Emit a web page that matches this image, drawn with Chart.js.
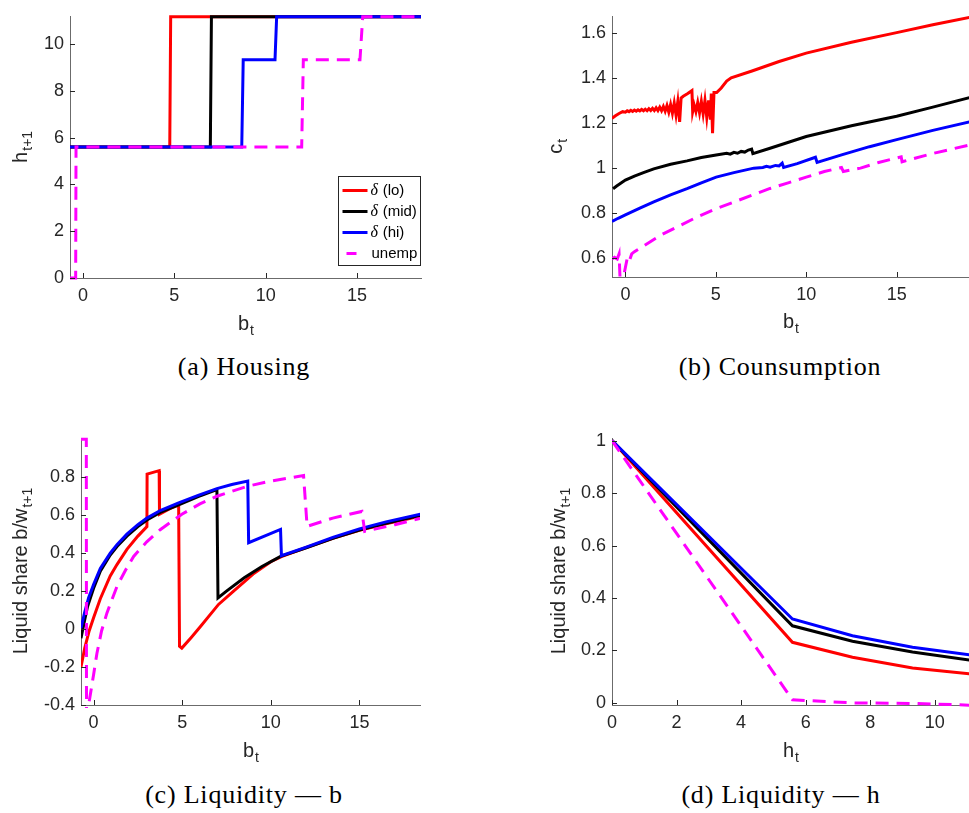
<!DOCTYPE html>
<html>
<head>
<meta charset="utf-8">
<script src="https://cdn.jsdelivr.net/npm/chart.js@4.4.1/dist/chart.umd.min.js"></script>
<style>
  body { margin: 0; background: #fff; width: 969px; height: 813px; position: relative; overflow: hidden; }
  canvas { position: absolute; }
  .caption { position: absolute; width: 400px; text-align: center; font-family: 'Liberation Serif', serif; font-size: 26px; letter-spacing: 0.8px; line-height: 28px; color: #000; }
</style>
</head>
<body>
<canvas id="housing" width="430" height="345" style="left:0;top:0"></canvas>
<canvas id="consumption" width="449" height="345" style="left:520px;top:0"></canvas>
<canvas id="liqB" width="430" height="345" style="left:0;top:420px"></canvas>
<canvas id="liqH" width="449" height="345" style="left:520px;top:420px"></canvas>
<div class="caption" style="left:44px;top:353px">(a) Housing</div>
<div class="caption" style="left:580px;top:353px">(b) Counsumption</div>
<div class="caption" style="left:44px;top:781px">(c) Liquidity — b</div>
<div class="caption" style="left:581px;top:781px">(d) Liquidity — h</div>
<script>
// legend labels, same order in every panel
const seriesNames = ['δ (lo)', 'δ (mid)', 'δ (hi)', 'unemp']

// (a) housing choice h_{t+1} against b_t
const housingLo = [[-0.71, 5.6], [4.75, 5.6], [4.8, 11.17], [19.5, 11.17]]
const housingMid = [[-0.71, 5.6], [6.97, 5.6], [7.03, 11.17], [19.5, 11.17]]
const housingHi = [[-0.71, 5.6], [8.69, 5.6], [8.77, 9.33], [10.51, 9.33], [10.6, 11.17], [19.5, 11.17]]
const housingUnemp = [[-0.71, 0], [-0.4, 0], [-0.38, 5.6], [11.97, 5.6], [12.06, 9.33], [15.16, 9.33], [15.31, 11.17], [19.5, 11.17]]

// (b) consumption c_t against b_t
const consLo = [[-0.74, 1.22], [-0.55, 1.232], [-0.35, 1.242], [-0.15, 1.25], [0, 1.248], [0.1, 1.254], [0.2, 1.25],
  [0.3, 1.256], [0.4, 1.251], [0.5, 1.257], [0.6, 1.252], [0.7, 1.258], [0.8, 1.253], [0.9, 1.26], [1.0, 1.254],
  [1.1, 1.261], [1.2, 1.254], [1.3, 1.263], [1.4, 1.255], [1.5, 1.265], [1.6, 1.255], [1.7, 1.267], [1.8, 1.255],
  [1.9, 1.27], [2.0, 1.254], [2.1, 1.273], [2.2, 1.252], [2.3, 1.277], [2.4, 1.248], [2.5, 1.282], [2.6, 1.243],
  [2.7, 1.288], [2.8, 1.235], [2.9, 1.295], [3.0, 1.205], [3.08, 1.31], [3.2, 1.318], [3.45, 1.33], [3.68, 1.343],
  [3.72, 1.25], [3.8, 1.28], [3.9, 1.25], [4.0, 1.29], [4.1, 1.245], [4.2, 1.295], [4.3, 1.24], [4.4, 1.3], [4.5, 1.225],
  [4.6, 1.3], [4.7, 1.215], [4.75, 1.33], [4.82, 1.155], [4.9, 1.335], [5.05, 1.335], [5.3, 1.355], [5.6, 1.385],
  [5.85, 1.4], [7, 1.43], [8.5, 1.472], [10, 1.509], [12.5, 1.557], [15, 1.6], [17, 1.635], [19.2, 1.67]]
const consMid = [[-0.68, 0.909], [-0.5, 0.92], [0, 0.947], [0.5, 0.965], [1, 0.98], [1.57, 0.997], [2.5, 1.017], [3.41, 1.032],
  [4.2, 1.047], [5.02, 1.058], [5.6, 1.066], [5.8, 1.062], [6.0, 1.07], [6.2, 1.066], [6.4, 1.074], [6.6, 1.071], [6.8, 1.08],
  [6.98, 1.084], [7.05, 1.064], [8, 1.088], [10, 1.14], [12.5, 1.188], [15, 1.23], [17, 1.27], [19.1, 1.314]]
const consHi = [[-0.74, 0.764], [-0.4, 0.778], [0, 0.793], [0.8, 0.823], [1.57, 0.851], [2.5, 0.882], [3.41, 0.909], [4.2, 0.935],
  [5.02, 0.96], [6, 0.98], [7.1, 1.0], [7.6, 1.003], [7.8, 1.008], [8.0, 1.004], [8.3, 1.012], [8.5, 1.01], [8.67, 1.022],
  [8.75, 1.003], [9.5, 1.02], [10.51, 1.048], [10.6, 1.025], [12, 1.06], [13.5, 1.095], [15, 1.126], [17, 1.167], [19.1, 1.206]]
const consUnemp = [[-0.74, 0.598], [-0.6, 0.605], [-0.45, 0.598], [-0.35, 0.62], [-0.3, 0.52], [-0.1, 0.52], [0, 0.56],
  [0.1, 0.6], [0.2, 0.585], [0.35, 0.62], [0.5, 0.63], [1, 0.655], [2, 0.705], [3, 0.745], [4, 0.785], [5, 0.82], [6, 0.85],
  [7, 0.88], [8, 0.91], [9, 0.935], [10, 0.96], [11, 0.985], [11.95, 1.003], [12.05, 0.985], [13, 1.0], [14, 1.025],
  [15.25, 1.05], [15.3, 1.028], [17, 1.065], [19.1, 1.104]]

// (c) liquid share b/w_{t+1} against b_t
const liqBLo = [[-0.71, -0.2], [-0.5, -0.1], [-0.25, -0.01], [0, 0.06], [0.38, 0.16], [0.94, 0.28], [1.32, 0.34], [1.88, 0.42],
  [2.5, 0.49], [3.01, 0.54], [3.02, 0.817], [3.7, 0.835], [3.72, 0.605], [4.3, 0.635], [4.8, 0.655], [4.85, -0.09],
  [4.98, -0.1], [5.5, -0.045], [6.02, 0.012], [7.05, 0.13], [7.9, 0.2], [9, 0.29], [10, 0.355], [10.6, 0.382], [12, 0.43],
  [13.5, 0.478], [15, 0.52], [16.5, 0.555], [18.5, 0.597]]
const liqBMid = [[-0.71, -0.048], [-0.5, 0.05], [-0.34, 0.119], [0, 0.215], [0.38, 0.305], [0.94, 0.39], [1.32, 0.435],
  [1.88, 0.49], [2.5, 0.54], [3.01, 0.575], [3.76, 0.615], [4.8, 0.655], [5.9, 0.698], [6.96, 0.735], [7.02, 0.164],
  [7.5, 0.2], [8.5, 0.27], [9.5, 0.33], [10.55, 0.383], [12, 0.428], [13.5, 0.478], [15, 0.522], [16.5, 0.558], [18.5, 0.6]]
const liqBHi = [[-0.71, 0.005], [-0.5, 0.09], [-0.28, 0.165], [0, 0.235], [0.38, 0.32], [0.94, 0.4], [1.32, 0.445],
  [1.88, 0.5], [2.5, 0.55], [3.01, 0.585], [3.76, 0.625], [4.8, 0.665], [5.9, 0.705], [6.96, 0.74], [7.8, 0.762],
  [8.7, 0.78], [8.75, 0.455], [10.55, 0.525], [10.6, 0.387], [12, 0.432], [13.5, 0.483], [15, 0.528], [16.5, 0.565], [18.5, 0.607]]
const liqBUnemp = [[-0.71, 1.0], [-0.41, 1.0], [-0.4, -0.45], [-0.28, -0.4], [0, -0.24], [0.19, -0.127], [0.45, -0.01],
  [0.75, 0.084], [1.32, 0.225], [1.8, 0.31], [2.26, 0.383], [3, 0.46], [3.76, 0.524], [4.98, 0.605], [6, 0.66],
  [6.96, 0.7], [8.65, 0.752], [10, 0.78], [11.85, 0.809], [12.05, 0.541], [13.5, 0.585], [15.14, 0.62], [15.3, 0.515],
  [17, 0.55], [18.5, 0.585]]

// (d) liquid share against h_t, on the housing grid
const hGrid = [0, 5.59, 7.45, 9.31, 11.17]
const liqHLo = [1, 0.231, 0.174, 0.133, 0.11]
const liqHMid = [1, 0.294, 0.235, 0.194, 0.162]
const liqHHi = [1, 0.32, 0.256, 0.212, 0.182]
const liqHUnemp = [1, 0.012, 0, -0.002, -0.009]

const colors = ['#ff0000', '#000000', '#0000ff', '#ff00ff']
const font = '"Liberation Sans", Arial, sans-serif'

const toPts = pairs => pairs.map(([x, y]) => ({ x, y }))
const gridPts = ys => ys.map((y, i) => ({ x: hGrid[i], y }))

// ticks point inward and axis titles carry a subscript, MATLAB style
const axisDecor = {
  id: 'axisDecor',
  afterDraw (chart, args, opts) {
    const { ctx, chartArea: a, scales } = chart
    ctx.save()
    ctx.strokeStyle = '#262626'
    ctx.lineWidth = 1
    scales.x.ticks.forEach(t => {
      const px = Math.round(scales.x.getPixelForValue(t.value)) + 0.5
      ctx.beginPath(); ctx.moveTo(px, a.bottom); ctx.lineTo(px, a.bottom - 5); ctx.stroke()
    })
    scales.y.ticks.forEach(t => {
      const py = Math.round(scales.y.getPixelForValue(t.value)) + 0.5
      ctx.beginPath(); ctx.moveTo(a.left, py); ctx.lineTo(a.left + 5, py); ctx.stroke()
    })
    drawTitle(ctx, opts.x, (a.left + a.right) / 2, a.bottom + opts.xOffset, 0)
    drawTitle(ctx, opts.y, a.left - opts.yOffset, (a.top + a.bottom) / 2, -Math.PI / 2)
    ctx.restore()
  }
}

function drawTitle (ctx, [main, sub], x, y, angle) {
  ctx.save()
  ctx.translate(x, y)
  ctx.rotate(angle)
  ctx.fillStyle = '#262626'
  ctx.textAlign = 'left'
  ctx.textBaseline = 'alphabetic'
  ctx.font = '20px ' + font
  const w1 = ctx.measureText(main).width
  ctx.font = '14px ' + font
  const w2 = ctx.measureText(sub).width
  const x0 = -(w1 + w2) / 2
  ctx.font = '20px ' + font
  ctx.fillText(main, x0, 0)
  ctx.font = '14px ' + font
  ctx.fillText(sub, x0 + w1 + 1, 5)
  ctx.restore()
}

// boxed legend sitting inside panel (a)
const insideLegend = {
  id: 'insideLegend',
  afterDraw (chart) {
    const { ctx } = chart
    const left = 338.5; const top = 176.5; const w = 82; const h = 89
    ctx.save()
    ctx.fillStyle = '#fff'
    ctx.fillRect(left, top, w, h)
    ctx.strokeStyle = '#262626'
    ctx.lineWidth = 1
    ctx.strokeRect(left, top, w, h)
    seriesNames.forEach((name, i) => {
      const y = top + 14 + i * 21
      ctx.strokeStyle = colors[i]
      ctx.lineWidth = 3
      ctx.beginPath()
      if (i === 3) { ctx.moveTo(left + 8, y); ctx.lineTo(left + 18, y) } else { ctx.moveTo(left + 4, y); ctx.lineTo(left + 29, y) }
      ctx.stroke()
      ctx.fillStyle = '#000'
      ctx.textBaseline = 'middle'
      if (i < 3) {
        ctx.font = 'italic 16px "Liberation Serif", serif'
        ctx.fillText('δ', left + 32, y)
        ctx.font = '15px ' + font
        ctx.fillText(name.slice(1), left + 40, y)
      } else {
        ctx.font = '15px ' + font
        ctx.fillText(name, left + 33, y)
      }
    })
    ctx.restore()
  }
}

function panel (id, series, box, range, ticks, titles, legend) {
  const datasets = series.map((data, i) => ({
    label: seriesNames[i],
    data,
    showLine: true,
    borderColor: colors[i],
    backgroundColor: colors[i],
    borderWidth: 3,
    borderDash: i === 3 ? [13, 8] : [],
    pointRadius: 0,
    tension: 0,
    order: 4 - i,
    clip: { left: 0, right: 0, top: 3, bottom: 3 }
  }))
  const fmt = v => String(Math.round(v * 10) / 10)
  return new Chart(document.getElementById(id), {
    type: 'scatter',
    data: { datasets },
    options: {
      responsive: false,
      animation: false,
      events: [],
      layout: { padding: { left: 0, top: box.top, right: box.right, bottom: 0 } },
      plugins: { legend: { display: false }, tooltip: { enabled: false }, axisDecor: titles },
      scales: {
        x: {
          type: 'linear',
          min: range.x[0],
          max: range.x[1],
          afterBuildTicks: s => { s.ticks = ticks.x.map(value => ({ value })) },
          afterFit: s => { s.height = box.xh },
          grid: { display: false, drawTicks: false },
          border: { display: true, color: '#6b6b6b', width: 1 },
          ticks: { padding: 7, color: '#262626', font: { family: font, size: 18 }, callback: fmt, maxRotation: 0 }
        },
        y: {
          min: range.y[0],
          max: range.y[1],
          afterBuildTicks: s => { s.ticks = ticks.y.map(value => ({ value })) },
          afterFit: s => { s.width = box.yw },
          grid: { display: false, drawTicks: false },
          border: { display: true, color: '#6b6b6b', width: 1 },
          ticks: { padding: 6, color: '#262626', font: { family: font, size: 18 }, callback: fmt }
        }
      }
    },
    plugins: legend ? [axisDecor, insideLegend] : [axisDecor]
  })
}

panel('housing', [housingLo, housingMid, housingHi, housingUnemp].map(toPts),
  { top: 11, right: 9, xh: 67, yw: 70 },
  { x: [-0.71, 18.5], y: [0, 11.17] },
  { x: [0, 5, 10, 15], y: [0, 2, 4, 6, 8, 10] },
  { x: ['b', 't'], y: ['h', 't+1'], xOffset: 52, yOffset: 43 }, true)

panel('consumption', [consLo, consMid, consHi, consUnemp].map(toPts),
  { top: 11, right: 0, xh: 68, yw: 92 },
  { x: [-0.74, 19.0], y: [0.518, 1.67] },
  { x: [0, 5, 10, 15], y: [0.6, 0.8, 1, 1.2, 1.4, 1.6] },
  { x: ['b', 't'], y: ['c', 't'], xOffset: 51, yOffset: 50 })

panel('liqB', [liqBLo, liqBMid, liqBHi, liqBUnemp].map(toPts),
  { top: 18, right: 10, xh: 60, yw: 81 },
  { x: [-0.71, 18.42], y: [-0.4, 1.007] },
  { x: [0, 5, 10, 15], y: [-0.4, -0.2, 0, 0.2, 0.4, 0.6, 0.8] },
  { x: ['b', 't'], y: ['Liquid share b/w', 't+1'], xOffset: 52, yOffset: 54 })

panel('liqH', [liqHLo, liqHMid, liqHHi, liqHUnemp].map(gridPts),
  { top: 18, right: 0, xh: 60, yw: 92 },
  { x: [0, 11.06], y: [-0.008, 1.01] },
  { x: [0, 2, 4, 6, 8, 10], y: [0, 0.2, 0.4, 0.6, 0.8, 1] },
  { x: ['h', 't'], y: ['Liquid share b/w', 't+1'], xOffset: 52, yOffset: 47 })
</script>
</body>
</html>
